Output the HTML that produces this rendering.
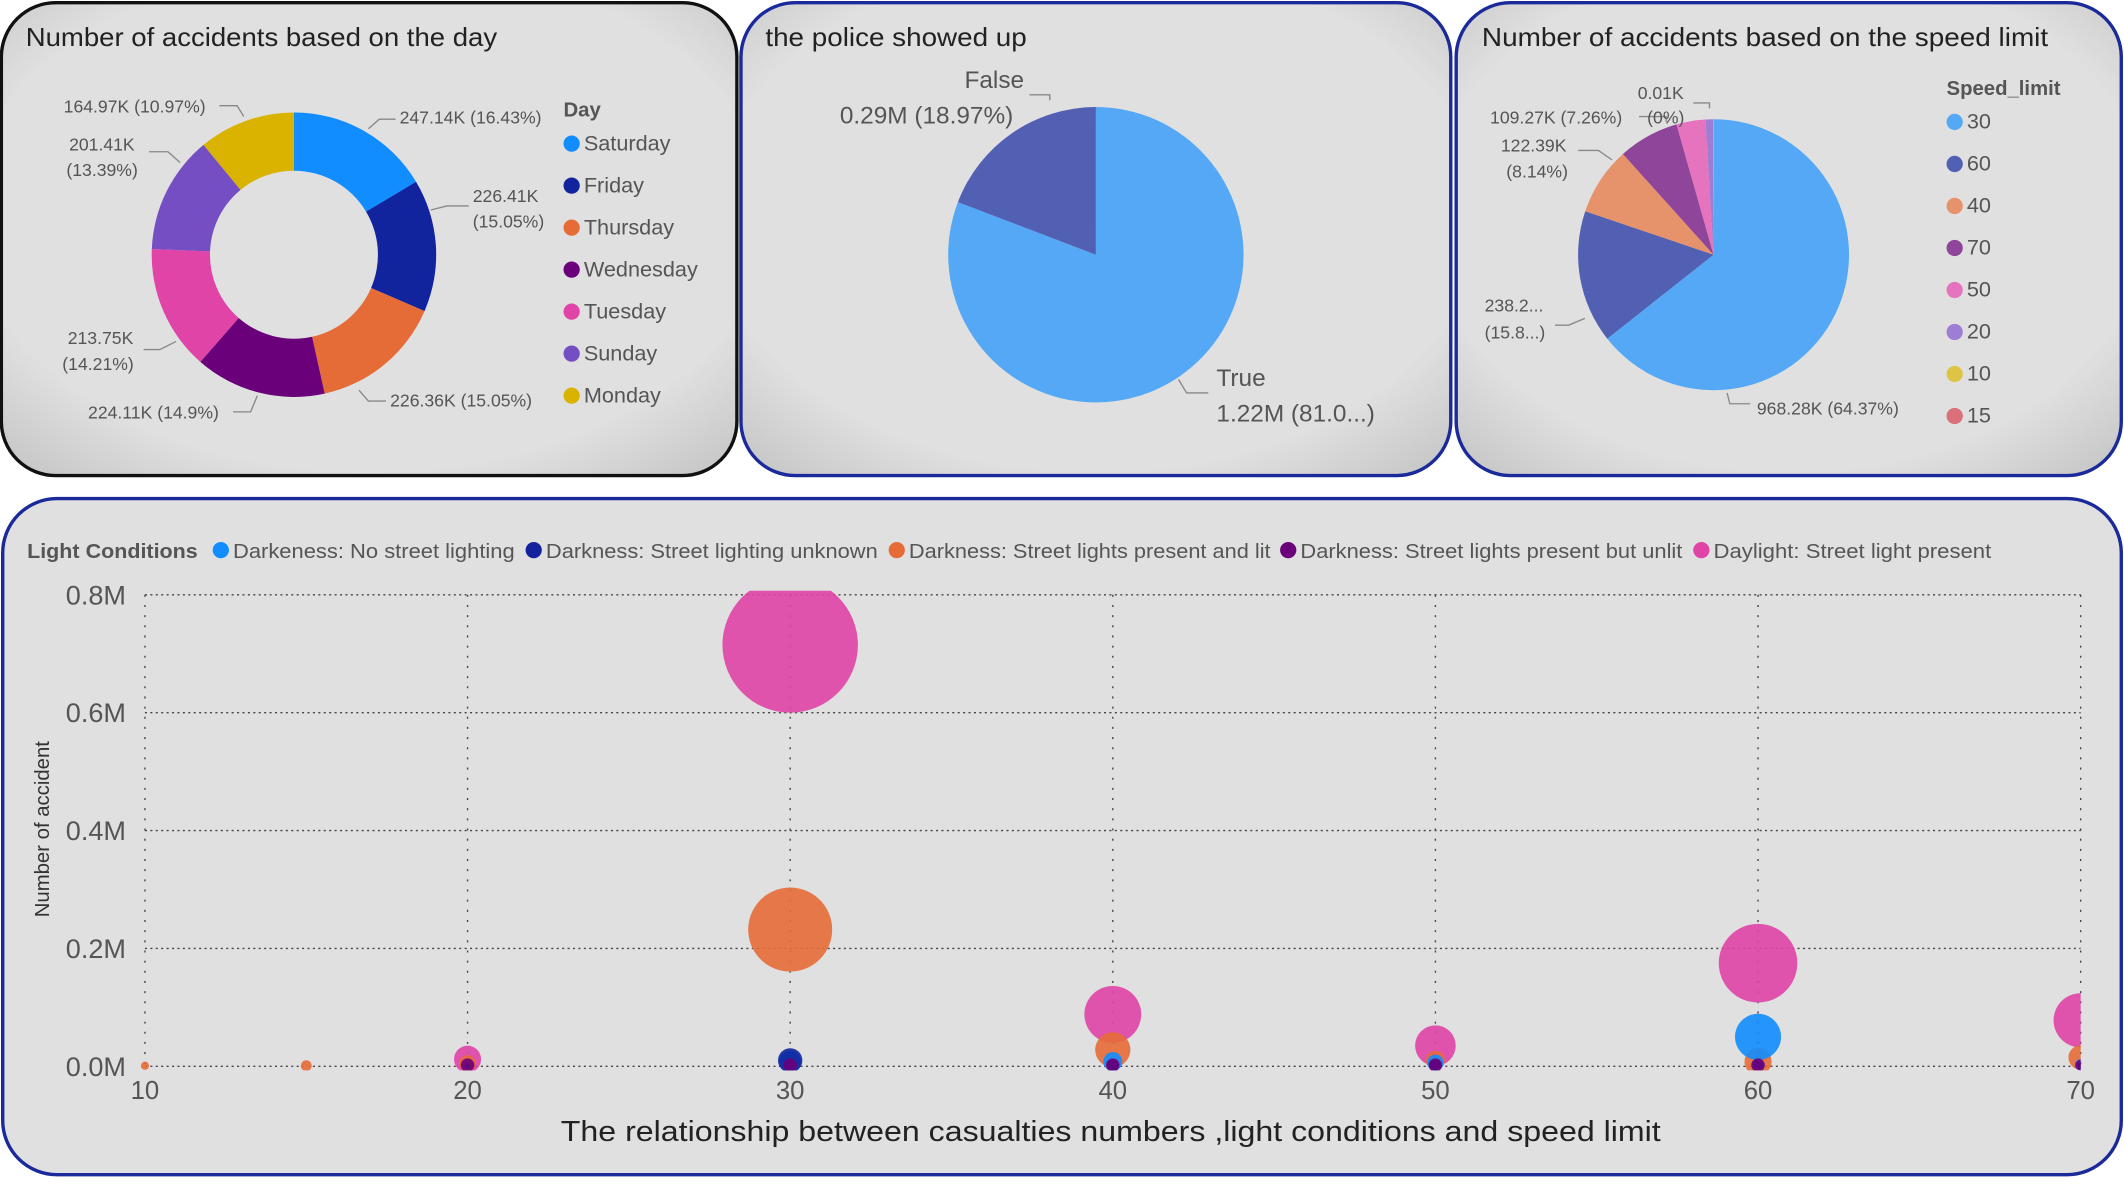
<!DOCTYPE html>
<html><head><meta charset="utf-8"><style>
html,body{margin:0;padding:0;background:#fff;}
svg{display:block;font-family:"Liberation Sans",sans-serif;}
</style></head><body>
<svg id="root" width="2124" height="1195" viewBox="0 0 1568 882" preserveAspectRatio="none" xmlns="http://www.w3.org/2000/svg">
<defs>
<radialGradient id="pg" cx="50%" cy="45%" r="75%">
<stop offset="72%" stop-color="#e0e0e0"/><stop offset="100%" stop-color="#c2c2c2"/>
</radialGradient>
<clipPath id="plotclip"><rect x="100" y="436" width="1436" height="354"/></clipPath>
</defs>
<rect x="0" y="0" width="1568" height="882" fill="#ffffff"/>
<rect x="1" y="2" width="543" height="349" rx="40" fill="url(#pg)" stroke="#111" stroke-width="2.5"/>
<rect x="547" y="2" width="524" height="349" rx="40" fill="url(#pg)" stroke="#1a2a9a" stroke-width="2.5"/>
<rect x="1075" y="2" width="491" height="349" rx="40" fill="url(#pg)" stroke="#1a2a9a" stroke-width="2.5"/>
<rect x="2" y="368" width="1564" height="499" rx="40" fill="#e0e0e0" stroke="#1a2a9a" stroke-width="2.5"/>

<text x="19" y="34" font-size="19" fill="#222" textLength="348" lengthAdjust="spacingAndGlyphs">Number of accidents based on the day</text>
<text x="565" y="34" font-size="19" fill="#222" textLength="193" lengthAdjust="spacingAndGlyphs">the police showed up</text>
<text x="1094" y="34" font-size="19" fill="#222" textLength="418" lengthAdjust="spacingAndGlyphs">Number of accidents based on the speed limit</text>

<g id="donut"></g>
<g id="daylabels" font-size="13" fill="#555">
<text x="295" y="91">247.14K (16.43%)</text>
<text x="349" y="149">226.41K</text><text x="349" y="168">(15.05%)</text>
<text x="288" y="300">226.36K (15.05%)</text>
<text x="65" y="309">224.11K (14.9%)</text>
<text x="50" y="254">213.75K</text><text x="46" y="273">(14.21%)</text>
<text x="51" y="111">201.41K</text><text x="49" y="130">(13.39%)</text>
<text x="47" y="83">164.97K (10.97%)</text>
</g>
<g fill="none" stroke="#888" stroke-width="1">
<path d="M272 95 L280 88 L292 88"/><path d="M318 155 L330 152 L346 152"/><path d="M265 288 L272 296 L285 296"/>
<path d="M190 292 L185 304 L172 304"/><path d="M130 252 L118 258 L106 258"/><path d="M133 120 L124 112 L110 112"/><path d="M180 86 L175 78 L162 78"/>
<path d="M775 74 L775 70 L760 70"/><path d="M870 280 L876 290 L892 290"/>
<path d="M1262 80 L1262 76 L1250 76"/><path d="M1230 90 L1230 86 L1210 86"/><path d="M1190 118 L1180 111 L1165 111"/><path d="M1170 235 L1158 240 L1148 240"/><path d="M1275 290 L1277 298 L1292 298"/>
</g>
<g id="daylegend"></g>

<g id="police"></g>
<text x="712" y="65" font-size="18" fill="#555">False</text>
<text x="620" y="91" font-size="18" fill="#555">0.29M (18.97%)</text>
<text x="898" y="285" font-size="18" fill="#555">True</text>
<text x="898" y="311" font-size="18" fill="#555">1.22M (81.0...)</text>

<g id="speed"></g>
<g font-size="13" fill="#555">
<text x="1209" y="73">0.01K</text>
<text x="1100" y="91">109.27K (7.26%)</text><text x="1216" y="91">(0%)</text>
<text x="1108" y="112">122.39K</text><text x="1112" y="131">(8.14%)</text>
<text x="1096" y="230">238.2...</text><text x="1096" y="250">(15.8...)</text>
<text x="1297" y="306">968.28K (64.37%)</text>
</g>
<g id="speedlegend"></g>

<g id="bubble"></g>
<text x="820" y="842" font-size="21" fill="#222" text-anchor="middle" textLength="812" lengthAdjust="spacingAndGlyphs">The relationship between casualties numbers ,light conditions and speed limit</text>
<text transform="translate(36,612) rotate(-90)" font-size="15" fill="#333" text-anchor="middle">Number of accident</text>
<g id="blegend"></g>
</svg>
<script>
// ---- Day donut data
const dayNames = ["Saturday","Friday","Thursday","Wednesday","Tuesday","Sunday","Monday"];
const dayValues = [247.14,226.41,226.36,224.11,213.75,201.41,164.97];
const dayColors = ["#118DFF","#12239E","#E66C37","#6B007B","#E044A7","#744EC2","#D9B300"];
// ---- Police data
const policeNames = ["True","False"];
const policeValues = [1.22,0.29];
const policeColors = ["#55A8F5","#5160B3"];
// ---- Speed data
const speedNames = ["30","60","40","70","50","20","10","15"];
const speedValues = [968.28,238.2,122.39,109.27,52.0,13.5,0.8,0.01];
const speedColors = ["#55A8F5","#5160B3","#E6926B","#8F4599","#E673BE","#9E7ED4","#DDC444","#D9707A"];
// ---- Bubble data
const seriesNames = ["Darkeness: No street lighting","Darkness: Street lighting unknown","Darkness: Street lights present and lit","Darkness: Street lights present but unlit","Daylight: Street light present"];
const seriesColors = ["#118DFF","#12239E","#E66C37","#6B007B","#E044A7"];
const speedX = [10,15,20,30,40,50,60,70];
const yNoLight = [0,0,0.001,0.008,0.008,0.006,0.05,0.003];
const sNoLight = [0,0,4,64,49,36,289,16];
const yUnknown = [0,0,0.001,0.01,0.002,0.002,0.003,0.001];
const sUnknown = [0,0,4,81,16,16,16,4];
const yLit = [0.001,0.001,0.005,0.232,0.028,0.01,0.008,0.015];
const sLit = [9,16,36,961,169,49,100,81];
const yUnlit = [0,0,0.002,0.002,0.002,0.002,0.002,0.002];
const sUnlit = [0,0,25,25,25,25,25,16];
const yDay = [0,0,0.012,0.715,0.088,0.035,0.175,0.078];
const sDay = [0,0,100,2500,441,225,841,400];
const yTicks = [0,0.2,0.4,0.6,0.8];
const yTickLabels = ["0.0M","0.2M","0.4M","0.6M","0.8M"];
const xTicks = [10,20,30,40,50,60,70];

const NS="http://www.w3.org/2000/svg";
function mk(tag,attrs,parent){const e=document.createElementNS(NS,tag);for(const k in attrs)e.setAttribute(k,attrs[k]);parent.appendChild(e);return e;}
function arcPath(cx,cy,rx,ry,a0,a1,ri){
  const p=(a,r1,r2)=>[cx+r1*Math.sin(a),cy-r2*Math.cos(a)];
  const large=(a1-a0)>Math.PI?1:0;
  const [x0,y0]=p(a0,rx,ry),[x1,y1]=p(a1,rx,ry);
  if(!ri) return `M${cx},${cy} L${x0},${y0} A${rx},${ry} 0 ${large} 1 ${x1},${y1} Z`;
  const [x2,y2]=p(a1,ri,ri),[x3,y3]=p(a0,ri,ri);
  return `M${x0},${y0} A${rx},${ry} 0 ${large} 1 ${x1},${y1} L${x2},${y2} A${ri},${ri} 0 ${large} 0 ${x3},${y3} Z`;
}
function drawPie(g,vals,cols,names,cx,cy,rx,ry,ri,prefix){
  const tot=vals.reduce((a,b)=>a+b,0);let a=0;
  vals.forEach((v,i)=>{const a1=a+v/tot*2*Math.PI;
    const el=mk("path",{d:arcPath(cx,cy,rx,ry,a,Math.min(a1,a+2*Math.PI-1e-6),ri),fill:cols[i]},g);
    
    
    a=a1;});
}
function drawLegend(g,title,names,cols,x,y,dy,fs){
  const t=mk("text",{x:x,y:y,"font-size":15,"font-weight":"bold",fill:"#555"},g);t.textContent=title;
  names.forEach((n,i)=>{
    const it=mk("g",{},g);
    
    
    mk("circle",{cx:x+6,cy:y+25+i*dy-5,r:6,fill:cols[i]},it);
    const tx=mk("text",{x:x+15,y:y+25+i*dy,"font-size":fs,fill:"#555"},it);tx.textContent=n;
  });
}
drawPie(document.getElementById("donut"),dayValues,dayColors,dayNames,217,188,105,105,62,"day");
drawLegend(document.getElementById("daylegend"),"Day",dayNames,dayColors,416,86,31,16);
drawPie(document.getElementById("police"),policeValues,policeColors,policeNames,809,188,109,109,0,"police");
drawPie(document.getElementById("speed"),speedValues,speedColors,speedNames,1265,188,100,100,0,"speed");
drawLegend(document.getElementById("speedlegend"),"Speed_limit",speedNames,speedColors,1437,70,31,16);

// bubble chart
const bg=document.getElementById("bubble");
const X0=107,X1=1536,Y0=787,Y1=439;
const xs=v=>X0+(v-10)/(70-10)*(X1-X0);
const ys=v=>Y0-(v/0.8)*(Y0-Y1);
const rs=s=>Math.sqrt(s);
yTicks.forEach((t,i)=>{
  const l=mk("line",{x1:X0,x2:X1,y1:ys(t),y2:ys(t),stroke:"#444","stroke-width":1,"stroke-dasharray":"1.5 2.5"},bg);
  
  
  const tx=mk("text",{x:93,y:ys(t)+7,"font-size":20,fill:"#555","text-anchor":"end"},bg);
  
  
  tx.textContent=yTickLabels[i];
});
xTicks.forEach(t=>{
  const l=mk("line",{x1:xs(t),x2:xs(t),y1:Y1,y2:Y0,stroke:"#444","stroke-width":1,"stroke-dasharray":"1.5 6"},bg);
  
  
  const tx=mk("text",{x:xs(t),y:811,"font-size":19,fill:"#555","text-anchor":"middle"},bg);
  
  
  tx.textContent=t;
});
const cg=mk("g",{"clip-path":"url(#plotclip)"},bg);
const order=[[yDay,sDay,4],[yLit,sLit,2],[yNoLight,sNoLight,0],[yUnknown,sUnknown,1],[yUnlit,sUnlit,3]];
order.forEach(([yv,sv,ci])=>{
  speedX.forEach((x,i)=>{ if(sv[i]<=0) return;
    const c=mk("circle",{cx:xs(x),cy:ys(yv[i]),r:rs(sv[i]),fill:seriesColors[ci],"fill-opacity":0.9},cg);
    
    
  });
});
// legend
const lg=document.getElementById("blegend");
const lt=mk("text",{x:20,y:412,"font-size":15,"font-weight":"bold",fill:"#555",textLength:126,lengthAdjust:"spacingAndGlyphs"},lg);lt.textContent="Light Conditions";
const lx=[156,387,655,944,1249], lw=[208,245,267,282,205];
seriesNames.forEach((n,i)=>{
  const it=mk("g",{},lg);
  
  
  mk("circle",{cx:lx[i]+7,cy:406,r:6,fill:seriesColors[i]},it);
  const t=mk("text",{x:lx[i]+16,y:412,"font-size":15,fill:"#555",textLength:lw[i],lengthAdjust:"spacingAndGlyphs"},it);t.textContent=n;
});
</script>
</body></html>
